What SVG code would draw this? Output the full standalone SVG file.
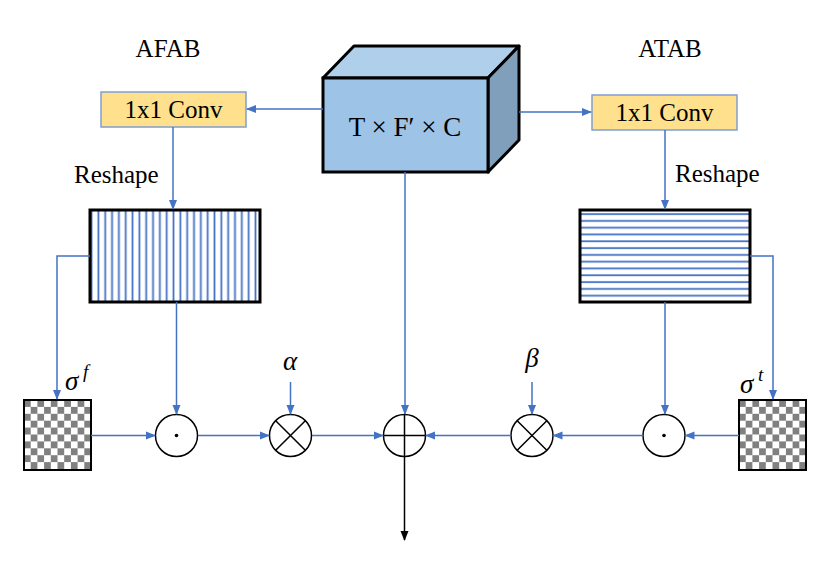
<svg xmlns="http://www.w3.org/2000/svg" width="831" height="576" viewBox="0 0 831 576">
<defs>
<marker id="ab" markerWidth="10" markerHeight="10" refX="9" refY="5" orient="auto" markerUnits="userSpaceOnUse">
<path d="M0,1 L10,5 L0,9 Z" fill="#4472C4"/>
</marker>
<marker id="ak" markerWidth="10" markerHeight="10" refX="9" refY="5" orient="auto" markerUnits="userSpaceOnUse">
<path d="M0,1 L10,5 L0,9 Z" fill="#000"/>
</marker>
<pattern id="chk" x="24" y="400" width="13.4" height="13.8" patternUnits="userSpaceOnUse">
<rect width="13.4" height="13.8" fill="#fff"/>
<rect width="6.7" height="6.9" fill="#808080"/>
<rect x="6.7" y="6.9" width="6.7" height="6.9" fill="#808080"/>
</pattern>
<pattern id="chk2" x="739" y="400" width="13.4" height="13.8" patternUnits="userSpaceOnUse">
<rect width="13.4" height="13.8" fill="#fff"/>
<rect width="6.7" height="6.9" fill="#808080"/>
<rect x="6.7" y="6.9" width="6.7" height="6.9" fill="#808080"/>
</pattern>
<pattern id="vl" x="95" y="0" width="6.83" height="10" patternUnits="userSpaceOnUse">
<rect x="2.5" y="0" width="1.8" height="10" fill="#4472C4"/>
</pattern>
<pattern id="hl" x="0" y="211" width="10" height="6.8" patternUnits="userSpaceOnUse">
<rect x="0" y="2.2" width="10" height="1.8" fill="#4472C4"/>
</pattern>
</defs>
<style>
.t{font-family:"Liberation Serif","DejaVu Serif",serif;font-size:25px;fill:#000}
.m{font-family:"Liberation Serif","DejaVu Serif",serif;font-style:italic;fill:#000}
.c{stroke:#4472C4;stroke-width:1.5;fill:none}
.k{stroke:#000;stroke-width:1.5;fill:none}
.conv{fill:#FFE08C;stroke:#7F9FCF;stroke-width:1.5}
.op{fill:#fff;stroke:#000;stroke-width:1.5}
</style>
<rect width="831" height="576" fill="#fff"/>

<text class="t" x="168" y="57" text-anchor="middle">AFAB</text>
<text class="t" x="670" y="57" text-anchor="middle">ATAB</text>

<g id="cube">
<polygon points="323,78 354,46 519,46 488,78" fill="#B0CFEB" stroke="#000" stroke-width="3" stroke-linejoin="round"/>
<polygon points="488,78 519,46 519,140 488,172" fill="#7F9FBA" stroke="#000" stroke-width="3" stroke-linejoin="round"/>
<rect x="323" y="78" width="165" height="94" fill="#9DC3E6" stroke="#000" stroke-width="3"/>
<text class="t" x="405" y="136" text-anchor="middle" font-size="27" style="font-size:27px">T × F′ × C</text>
</g>

<g id="conv-left">
<rect class="conv" x="101" y="92" width="145" height="35"/>
<text class="t" x="173.5" y="118" text-anchor="middle">1x1 Conv</text>
</g>
<g id="conv-right">
<rect class="conv" x="592" y="95" width="145" height="35"/>
<text class="t" x="664.5" y="121" text-anchor="middle">1x1 Conv</text>
</g>

<text class="t" x="74" y="183">Reshape</text>
<text class="t" x="675" y="182">Reshape</text>

<g id="reshape-left">
<rect x="91" y="211" width="168" height="90" fill="#fff"/>
<rect x="91" y="211" width="168" height="90" fill="url(#vl)"/>
<rect x="90" y="210" width="170" height="92" fill="none" stroke="#000" stroke-width="3"/>
</g>
<g id="reshape-right">
<rect x="581" y="211" width="168" height="90" fill="#fff"/>
<rect x="581" y="211" width="168" height="90" fill="url(#hl)"/>
<rect x="580" y="210" width="170" height="92" fill="none" stroke="#000" stroke-width="3"/>
</g>

<g id="sigma-f">
<rect x="24" y="400" width="67" height="70" fill="url(#chk)" stroke="#000" stroke-width="2"/>
<text class="m" x="65" y="390" font-size="27">σ</text>
<text class="m" x="83" y="378" font-size="19">f</text>
</g>
<g id="sigma-t">
<rect x="739" y="400" width="67" height="70" fill="url(#chk2)" stroke="#000" stroke-width="2"/>
<text class="m" x="740" y="393" font-size="27">σ</text>
<text class="m" x="758" y="381" font-size="19">t</text>
</g>

<g id="dot-left">
<circle class="op" cx="176.5" cy="435.5" r="21"/>
<circle cx="176.5" cy="435.5" r="1.8" fill="#000"/>
</g>
<g id="mul-alpha">
<circle class="op" cx="290.5" cy="435.5" r="21"/>
<path class="k" d="M275.7,420.7 L305.3,450.3 M305.3,420.7 L275.7,450.3"/>
<text class="m" x="290" y="370" font-size="27" text-anchor="middle">α</text>
</g>
<g id="sum">
<circle class="op" cx="404.5" cy="435.5" r="21"/>
<path class="k" d="M383.5,435.5 H425.5 M404.5,414.5 V456.5"/>
</g>
<g id="mul-beta">
<circle class="op" cx="532" cy="435.5" r="21"/>
<path class="k" d="M517.2,420.7 L546.8,450.3 M546.8,420.7 L517.2,450.3"/>
<text class="m" x="532" y="367" font-size="27" text-anchor="middle">β</text>
</g>
<g id="dot-right">
<circle class="op" cx="664" cy="435.5" r="21"/>
<circle cx="664" cy="435.5" r="1.8" fill="#000"/>
</g>

<g id="connectors">
<path class="c" d="M323,109 H247" marker-end="url(#ab)"/>
<path class="c" d="M519,112 H591" marker-end="url(#ab)"/>
<path class="c" d="M173,127 V209" marker-end="url(#ab)"/>
<path class="c" d="M665,130 V209" marker-end="url(#ab)"/>
<path class="c" d="M405,172 V414" marker-end="url(#ab)"/>
<path class="c" d="M90,256 H57 V399" marker-end="url(#ab)"/>
<path class="c" d="M750,256 H773 V399" marker-end="url(#ab)"/>
<path class="c" d="M176.5,302 V414" marker-end="url(#ab)"/>
<path class="c" d="M665,302 V414" marker-end="url(#ab)"/>
<path class="c" d="M290.5,382 V414" marker-end="url(#ab)"/>
<path class="c" d="M532,382 V414" marker-end="url(#ab)"/>
<path class="c" d="M91,435.5 H155" marker-end="url(#ab)"/>
<path class="c" d="M198,435.5 H269" marker-end="url(#ab)"/>
<path class="c" d="M312,435.5 H383" marker-end="url(#ab)"/>
<path class="c" d="M739,435.5 H685.5" marker-end="url(#ab)"/>
<path class="c" d="M643,435.5 H553.5" marker-end="url(#ab)"/>
<path class="c" d="M511,435.5 H426" marker-end="url(#ab)"/>
<path class="k" d="M404.5,457 V540" marker-end="url(#ak)"/>
</g>
</svg>
